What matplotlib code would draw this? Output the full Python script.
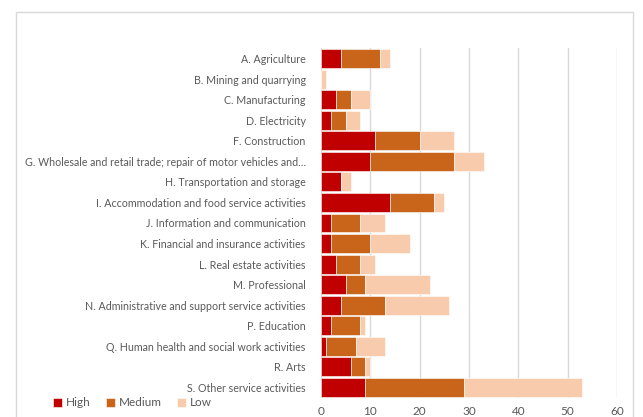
import numpy as np
import matplotlib.pyplot as plt
import matplotlib.patches as mpatches

# Categories (top to bottom as shown)
categories = [
    "A. Agriculture",
    "B. Mining and quarrying",
    "C. Manufacturing",
    "D. Electricity",
    "F. Construction",
    "G. Wholesale and retail trade; repair of motor vehicles and\u2026",
    "H. Transportation and storage",
    "I. Accommodation and food service activities",
    "J. Information and communication",
    "K. Financial and insurance activities",
    "L. Real estate activities",
    "M. Professional",
    "N. Administrative and support service activities",
    "P. Education",
    "Q. Human health and social work activities",
    "R. Arts",
    "S. Other service activities",
]
high = [4, 0, 3, 2, 11, 10, 4, 14, 2, 2, 3, 5, 4, 2, 1, 6, 9]
medium = [8, 0, 3, 3, 9, 17, 0, 9, 6, 8, 5, 4, 9, 6, 6, 3, 20]
low = [2, 1, 4, 3, 7, 6, 2, 2, 5, 8, 3, 13, 13, 1, 6, 1, 24]

x_ticks = [0, 10, 20, 30, 40, 50, 60]

c_high = "#C00000"
c_med = "#C9651A"
c_low = "#F8CBAD"
txt = "#595959"

plt.rcParams['font.family'] = ['Lato', 'DejaVu Sans']

fig = plt.figure(figsize=(6.43, 4.17), dpi=100)
ax = fig.add_axes([321 / 643, 1 - 397.7 / 417, (617 - 321) / 643, (397.7 - 48.3) / 417])

y = np.arange(len(categories))
h = np.array(high)
m = np.array(medium)
l = np.array(low)
kw = dict(height=0.92, edgecolor="white", linewidth=0.4, zorder=3)
ax.barh(y, h, color=c_high, label="High", **kw)
ax.barh(y, m, left=h, color=c_med, label="Medium", **kw)
ax.barh(y, l, left=h + m, color=c_low, label="Low", **kw)

ax.set_ylim(len(categories) - 0.5, -0.5)
ax.set_xlim(0, 60)
ax.set_xticks(x_ticks)
ax.set_yticks(y)
ax.set_yticklabels(categories)
ax.xaxis.grid(True, color="#D9D9D9", linewidth=1, zorder=0)
ax.set_axisbelow(True)
for s in ax.spines.values():
    s.set_visible(False)
ax.tick_params(axis="both", length=0, colors=txt)
ax.tick_params(axis="y", pad=11, labelsize=7.7)
ax.tick_params(axis="x", pad=6, labelsize=8.5)

# outer chart border
fig.patches.append(mpatches.Rectangle((16 / 643, -0.05), (633 - 16) / 643, 1 - 12 / 417 + 0.05,
                                      transform=fig.transFigure, fill=False,
                                      edgecolor="#D9D9D9", linewidth=1))

handles, labels = ax.get_legend_handles_labels()
fig.legend(handles, labels, loc="lower left", bbox_to_anchor=(42 / 643, -0.005), ncol=3,
           frameon=False, fontsize=8.5, handlelength=0.8, handleheight=0.8,
           handletextpad=0.3, columnspacing=1.3, labelcolor=txt)

fig.savefig("out.png", dpi=100)
